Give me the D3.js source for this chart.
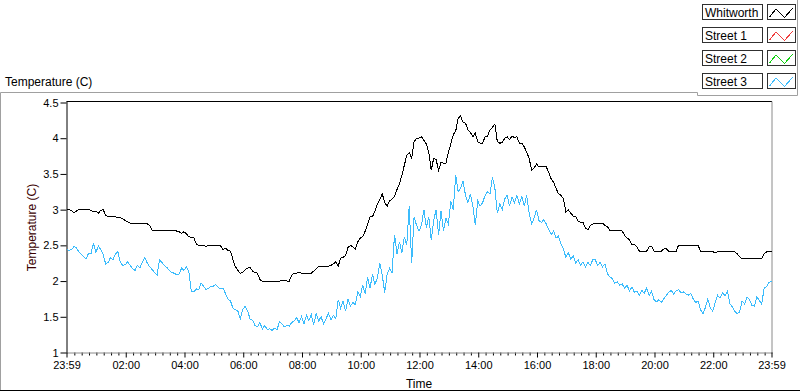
<!DOCTYPE html>
<html><head><meta charset="utf-8">
<script src="https://cdn.jsdelivr.net/npm/d3@7"></script>
<style>
html,body{margin:0;padding:0;background:#fff;}
svg{display:block;font-family:"Liberation Sans",Arial,sans-serif;}
</style></head>
<body><svg id="c" width="800" height="392"></svg>
<script>
// ---- data ----
const seriesNames = ["Whitworth", "Street 1", "Street 2", "Street 3"];
const seriesColors = ["#000000", "#f03c3c", "#10d010", "#3cbcfc"];
const sampleMinutes = 5; // one reading every 5 minutes, starting 23:59
const yTickValues = [1, 1.5, 2, 2.5, 3, 3.5, 4, 4.5];
const xTickLabels = ["23:59","02:00","04:00","06:00","08:00","10:00","12:00","14:00","16:00","18:00","20:00","22:00","23:59"];

const whitworth = [
3.00,3.00,2.99,2.96,2.98,3.00,3.00,3.00,3.00,3.00,2.99,2.97,2.98,2.95,2.99,3.00,2.92,2.90,2.90,2.90,
2.90,2.89,2.89,2.87,2.85,2.83,2.81,2.81,2.81,2.81,2.81,2.81,2.81,2.80,2.78,2.71,2.71,2.71,2.71,2.71,
2.71,2.71,2.71,2.71,2.71,2.70,2.69,2.67,2.69,2.66,2.62,2.61,2.61,2.52,2.50,2.50,2.50,2.48,2.50,2.50,
2.50,2.50,2.50,2.49,2.44,2.46,2.43,2.42,2.30,2.20,2.15,2.11,
2.12,2.16,2.18,2.19,2.14,2.12,2.11,2.02,2.00,2.00,2.00,2.00,2.00,2.00,2.00,2.00,2.01,2.01,2.00,2.00,
2.08,2.11,2.11,2.12,2.11,2.11,2.11,2.11,2.11,2.14,2.17,2.21,2.21,2.21,2.20,2.21,2.22,2.24,2.27,2.21,
2.32,2.33,2.36,2.47,2.50,2.48,2.45,2.55,2.60,2.62,2.70,2.79,2.90,2.90,2.98,3.08,3.14,3.22,3.10,3.05,
3.12,3.15,3.18,3.28,3.36,3.48,3.62,3.76,3.80,3.72,3.95,4.00,
4.00,4.02,3.97,3.92,3.80,3.55,3.72,3.70,3.55,3.66,3.65,3.65,3.80,3.92,4.05,4.10,4.28,4.31,4.22,4.21,
4.12,4.08,4.02,4.07,3.95,3.93,3.93,4.02,4.03,4.12,4.15,4.20,3.95,3.93,3.94,4.00,4.02,3.98,4.03,4.01,
4.02,3.93,3.93,3.88,3.80,3.72,3.55,3.58,3.64,3.60,3.60,3.60,3.60,3.52,3.43,3.38,3.30,3.22,3.20,3.15,
2.97,3.00,2.95,2.91,2.91,2.84,2.82,2.82,2.74,2.72,2.78,2.80,
2.81,2.81,2.80,2.81,2.78,2.76,2.71,2.71,2.71,2.71,2.71,2.70,2.64,2.60,2.58,2.51,2.51,2.48,2.42,2.42,
2.42,2.42,2.48,2.49,2.42,2.42,2.42,2.42,2.45,2.45,2.42,2.42,2.42,2.41,2.50,2.50,2.50,2.50,2.50,2.50,
2.50,2.50,2.50,2.42,2.41,2.41,2.41,2.41,2.41,2.40,2.41,2.41,2.41,2.41,2.41,2.41,2.41,2.41,2.38,2.34,
2.31,2.31,2.31,2.31,2.31,2.31,2.31,2.31,2.32,2.38,2.41,2.41,2.41
];

const street3 = [
2.44,2.43,2.44,2.48,2.47,2.41,2.38,2.34,2.31,2.39,2.38,2.53,2.40,2.49,2.44,2.37,2.24,2.26,2.33,2.30,
2.38,2.41,2.26,2.22,2.23,2.27,2.22,2.17,2.15,2.22,2.18,2.27,2.33,2.25,2.20,2.16,2.12,2.08,2.30,2.26,
2.22,2.19,2.15,2.12,2.11,2.09,2.10,2.18,2.15,2.20,2.13,1.86,1.85,1.89,1.88,1.97,1.93,1.88,1.90,1.93,
1.93,1.95,1.91,1.89,1.90,1.82,1.75,1.72,1.62,1.60,1.58,1.47,
1.60,1.65,1.58,1.47,1.45,1.38,1.36,1.42,1.33,1.38,1.32,1.33,1.31,1.34,1.32,1.43,1.40,1.36,1.38,1.37,
1.42,1.44,1.49,1.42,1.50,1.40,1.52,1.45,1.53,1.39,1.55,1.44,1.50,1.40,1.47,1.55,1.46,1.52,1.47,1.74,
1.62,1.72,1.58,1.75,1.65,1.70,1.67,1.85,1.78,1.95,1.82,2.05,1.90,2.10,1.95,2.05,2.25,2.08,1.84,2.10,
2.18,2.12,2.65,2.38,2.55,2.40,2.62,2.50,3.05,2.25,2.90,2.78,
2.70,2.78,3.00,2.75,2.90,2.58,2.85,3.00,2.65,2.98,2.70,2.88,2.80,3.12,3.00,3.48,3.25,3.30,3.40,3.20,
3.10,3.22,3.05,2.78,3.12,3.05,3.10,3.20,3.25,3.22,3.45,3.30,2.95,3.08,3.00,3.15,3.20,3.05,3.18,3.10,
3.20,3.08,3.18,3.05,3.20,2.95,2.80,2.88,3.00,2.85,2.82,2.86,2.80,2.72,2.65,2.70,2.60,2.63,2.52,2.45,
2.33,2.40,2.30,2.36,2.25,2.30,2.22,2.27,2.20,2.26,2.22,2.30,
2.30,2.22,2.26,2.20,2.24,2.10,2.06,2.03,1.97,1.99,1.94,1.96,1.90,1.94,1.86,1.92,1.84,1.86,1.80,1.87,
1.83,1.90,1.80,1.86,1.74,1.71,1.74,1.70,1.75,1.80,1.84,1.87,1.82,1.86,1.88,1.84,1.85,1.82,1.80,1.83,
1.75,1.70,1.72,1.60,1.54,1.63,1.75,1.62,1.58,1.70,1.80,1.76,1.84,1.79,1.86,1.68,1.64,1.58,1.54,1.57,
1.72,1.68,1.78,1.74,1.66,1.65,1.78,1.73,1.68,1.90,1.92,1.98,2.00
];

// ---- chart ----
const svg = d3.select("#c");
const start = new Date(2020, 0, 1, 23, 59);
const end = new Date(2020, 0, 2, 23, 59);
const L = 66.5, R = 771.5, T = 102.5, B = 352.5;

const x = d3.scaleTime().domain([start, end]).range([L, R]);
const y = d3.scaleLinear().domain([1, 4.5]).range([B, T]);

const tOf = i => new Date(start.getTime() + i * sampleMinutes * 60000);

// outer frame
svg.append("path").attr("d", "M0.5,391 V92.5 H697.5 V95.5 H797.5 V0").attr("fill","none").attr("stroke","#a0a0a0");
svg.append("line").attr("x1",0).attr("x2",800).attr("y1",390.5).attr("y2",390.5).attr("stroke","#000");

// graph title
svg.append("text").attr("x",5).attr("y",86).attr("font-size",12).attr("fill","#000").text("Temperature (C)");

// plot area borders
svg.append("line").attr("x1",L).attr("x2",R+0.5).attr("y1",101.5).attr("y2",101.5).attr("stroke","#000");
svg.append("line").attr("x1",R+0.5).attr("x2",R+0.5).attr("y1",101.5).attr("y2",B+1).attr("stroke","#8a8a8a");

// y axis
const yAxis = d3.axisLeft(y).tickValues(yTickValues).tickSize(6).tickPadding(2)
  .tickFormat(d => String(d));
const gy = svg.append("g").attr("transform", `translate(${L},0)`).call(yAxis);
gy.select(".domain").attr("stroke","#000").attr("d", `M0.5,${T-1}V${B+1}`);
gy.selectAll(".tick line").attr("stroke","#000");
gy.selectAll("text").attr("font-size",11).attr("fill","#000").attr("font-family","Liberation Sans, Arial, sans-serif");

// x axis: major + minor ticks
const majorTimes = xTickLabels.map((lab, k) => {
  if (k === 0) return start;
  if (k === xTickLabels.length - 1) return end;
  return new Date(2020, 0, 2, 2 * k, 0);
});
const minorTimes = d3.timeMinute.every(15).range(new Date(2020,0,2,0,0), end)
  .filter(t => t.getMinutes() !== 0 || t.getHours() % 2 !== 0);
const xMinor = d3.axisBottom(x).tickValues(minorTimes).tickSize(3).tickFormat("");
const gxm = svg.append("g").attr("transform", `translate(0,${B})`).call(xMinor);
gxm.select(".domain").remove();
gxm.selectAll(".tick line").attr("stroke","#000");
const xAxis = d3.axisBottom(x).tickValues(majorTimes).tickSize(5).tickPadding(4)
  .tickFormat((d, k) => xTickLabels[k]);
const gx = svg.append("g").attr("transform", `translate(0,${B})`).call(xAxis);
gx.select(".domain").attr("stroke","#8a8a8a").attr("d", `M${L},0.5H${R+1}`);
gx.selectAll(".tick line").attr("stroke","#000");
gx.selectAll("text").attr("font-size",11).attr("fill","#000").attr("font-family","Liberation Sans, Arial, sans-serif");

// axis titles
svg.append("text").attr("x",(L+R)/2).attr("y",388).attr("text-anchor","middle")
  .attr("font-size",12).attr("fill","#000").text("Time");
svg.append("text").attr("transform",`translate(36,${(T+B)/2}) rotate(-90)`).attr("text-anchor","middle")
  .attr("font-size",12).attr("fill","#3a0000").text("Temperature (C)");

// lines
const line = d3.line().x((d,i) => x(tOf(i))).y(d => y(d));
const plot = svg.append("g");
plot.append("path").datum(whitworth).attr("d", line).attr("fill","none")
  .attr("stroke", seriesColors[0]).attr("stroke-width",1).attr("shape-rendering","crispEdges");
plot.append("path").datum(street3).attr("d", line).attr("fill","none")
  .attr("stroke", seriesColors[3]).attr("stroke-width",1).attr("shape-rendering","crispEdges");

// legend
const leg = svg.append("g");
seriesNames.forEach((name, k) => {
  const top = 4.5 + k * 23;
  leg.append("rect").attr("x",702.5).attr("y",top).attr("width",60).attr("height",15)
    .attr("fill","#fff").attr("stroke","#303030");
  leg.append("text").attr("x",705).attr("y",top+12).attr("font-size",12).attr("fill","#000").text(name);
  leg.append("rect").attr("x",767.5).attr("y",top).attr("width",28).attr("height",15)
    .attr("fill","#fff").attr("stroke","#303030");
  leg.append("path").attr("d", `M${769.5},${top+12.5} L${776},${top+4.5} L${784.5},${top+13} L${792.5},${top+4}`)
    .attr("fill","none").attr("stroke", seriesColors[k]).attr("stroke-width",1).attr("shape-rendering","crispEdges");
});
</script></body></html>
